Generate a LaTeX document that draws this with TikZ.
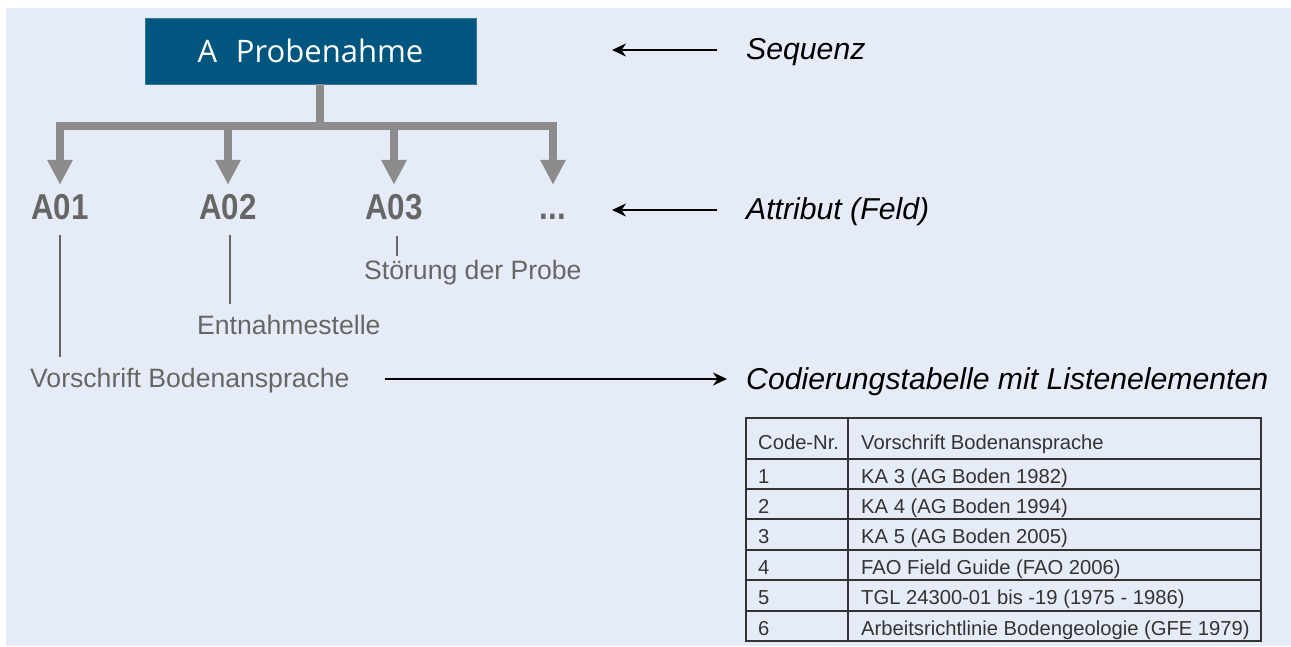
\documentclass[tikz,border=0pt]{standalone}
\usepackage{fontspec}
\setmainfont{Liberation Sans}
\newfontfamily\boxfont{Open Sans}
\newfontfamily\cond[FakeStretch=0.87]{Liberation Sans}
\usetikzlibrary{arrows.meta}
\definecolor{bgc}{HTML}{E6ECF7}
\definecolor{boxblue}{HTML}{00567F}
\definecolor{connc}{HTML}{8C8C8C}
\definecolor{labc}{HTML}{666666}
\definecolor{tabc}{HTML}{333333}
\tikzset{
  seqbox/.style={fill=boxblue, draw=boxblue!80!white, minimum width=331pt, minimum height=66pt, inner sep=0pt, text=white, font=\boxfont\fontsize{31}{36}\selectfont},
  attr/.style={inner sep=0pt, text height=26pt, text depth=0pt, text=labc, font=\cond\bfseries\fontsize{36}{40}\selectfont},
  desc/.style={inner sep=0pt, text height=18pt, text depth=5pt, anchor=base west, text=labc, font=\fontsize{26.6}{30}\selectfont},
  ital/.style={inner sep=0pt, anchor=base west, text=black, font=\itshape\fontsize{30.2}{34}\selectfont},
  gconn/.style={draw=connc, line width=8pt, -{Triangle[width=24pt,length=25pt]}},
  thin/.style={draw=labc, line width=2.2pt},
  pointer/.style={draw=black, line width=2.8pt, {Stealth[length=14pt,width=13pt]}-},
  tcell/.style={inner sep=0pt, anchor=base west, text=tabc, font=\fontsize{20.2}{24}\selectfont},
  tline/.style={draw=tabc, line width=1.3pt}
}
\begin{document}
\begin{tikzpicture}[x=1pt,y=-1pt]
\useasboundingbox (0,0) rectangle (1291,646);
\fill[bgc] (6,8) rectangle (1291,646);

% sequence box
\node[seqbox] (seq) at (310.5,51) {A\hspace{0.6em}Probenahme};

% attributes
\node[attr, anchor=base] (a1) at (60,219) {A01};
\node[attr, anchor=base] (a2) at (228,219) {A02};
\node[attr, anchor=base] (a3) at (394,219) {A03};
\node[attr, anchor=base] (a4) at (553,219) {...};

% tree connector
\coordinate (trunk) at (320,126);
\draw[draw=connc, line width=8pt] (seq.south -| trunk) -- (trunk);
\draw[draw=connc, line width=8pt] ([xshift=-4pt]a1.north |- trunk) -- ([xshift=4pt]a4.north |- trunk);
\foreach \n in {a1,a2,a3,a4}{
  \draw[gconn, shorten >=8pt] ([yshift=-4pt]\n.north |- trunk) -- (\n.north);
}

% descriptions
\node[desc] (vor) at (30,387) {Vorschrift Bodenansprache};
\node[desc] (ent) at (197,334) {Entnahmestelle};
\node[desc] (stoe) at (364,279) {Störung der Probe};
\draw[thin] ([yshift=-16pt]a1.south) -- ([yshift=12pt]a1.south |- vor.north);
\draw[thin] ([xshift=2pt,yshift=-16pt]a2.south) -- ([xshift=2pt,yshift=12pt]a2.south |- ent.north);
\draw[thin] ([xshift=3pt,yshift=-17pt]a3.south) -- ([xshift=3pt,yshift=5pt]a3.south |- stoe.north);

% right labels
\node[ital] (lseq) at (746,59) {Sequenz};
\node[ital] (lattr) at (746,219) {Attribut (Feld)};
\node[ital] (lcod) at (746,389) {Codierungstabelle mit Listenelementen};
\coordinate (ptrS) at (612,50);
\coordinate (ptrA) at (612,210);
\coordinate (ptrC) at (727,379);
\draw[pointer, shorten >=29pt] (ptrS) -- (ptrS -| lseq.west);
\draw[pointer, shorten >=29pt] (ptrA) -- (ptrA -| lattr.west);
\draw[pointer, -{Stealth[length=14pt,width=13pt]}, shorten <=35pt] (vor.east |- ptrC) -- (ptrC);

% table
\draw[tline] (746,418) rectangle (1261,641);
\draw[tline] (848,418) -- (848,641);
\foreach \yy in {459,489,519,550,580,611}{
  \draw[tline] (746,\yy) -- (1261,\yy);
}
\node[tcell] (h1) at (758,449) {Code-Nr.};
\node[tcell] (h2) at (861,449) {Vorschrift Bodenansprache};
\node[tcell] (c1) at (758,483) {1};
\node[tcell] (d1) at (861,483) {KA 3 (AG Boden 1982)};
\node[tcell] (c2) at (758,513) {2};
\node[tcell] (d2) at (861,513) {KA 4 (AG Boden 1994)};
\node[tcell] (c3) at (758,543) {3};
\node[tcell] (d3) at (861,543) {KA 5 (AG Boden 2005)};
\node[tcell] (c4) at (758,574) {4};
\node[tcell] (d4) at (861,574) {FAO Field Guide (FAO 2006)};
\node[tcell] (c5) at (758,604) {5};
\node[tcell] (d5) at (861,604) {TGL 24300-01 bis -19 (1975 - 1986)};
\node[tcell] (c6) at (758,635) {6};
\node[tcell] (d6) at (861,635) {Arbeitsrichtlinie Bodengeologie (GFE 1979)};
\end{tikzpicture}
\end{document}
